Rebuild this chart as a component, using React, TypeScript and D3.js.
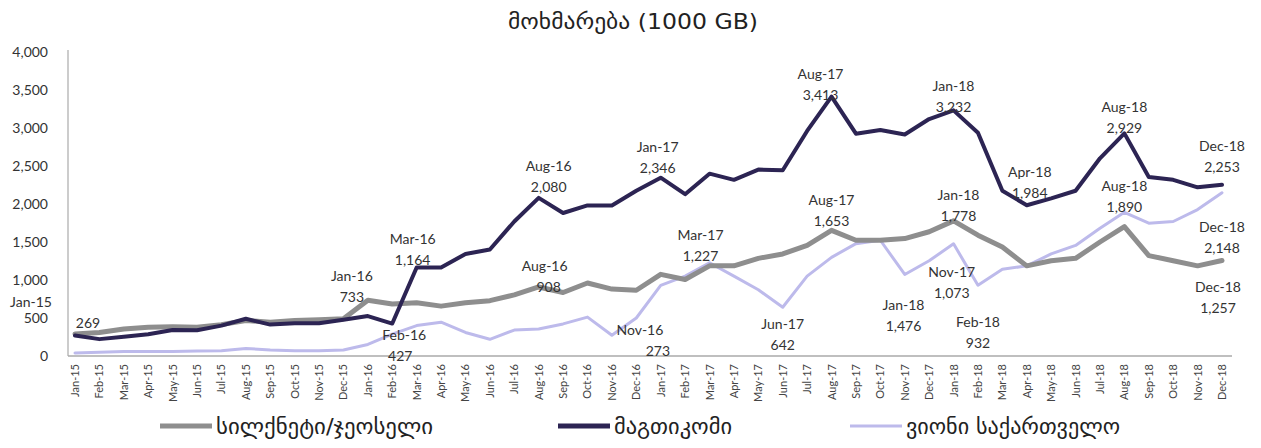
import React from 'react';
import * as d3 from 'd3';

const months = [
  'Jan-15', 'Feb-15', 'Mar-15', 'Apr-15', 'May-15', 'Jun-15', 'Jul-15', 'Aug-15', 'Sep-15', 'Oct-15', 'Nov-15', 'Dec-15',
  'Jan-16', 'Feb-16', 'Mar-16', 'Apr-16', 'May-16', 'Jun-16', 'Jul-16', 'Aug-16', 'Sep-16', 'Oct-16', 'Nov-16', 'Dec-16',
  'Jan-17', 'Feb-17', 'Mar-17', 'Apr-17', 'May-17', 'Jun-17', 'Jul-17', 'Aug-17', 'Sep-17', 'Oct-17', 'Nov-17', 'Dec-17',
  'Jan-18', 'Feb-18', 'Mar-18', 'Apr-18', 'May-18', 'Jun-18', 'Jul-18', 'Aug-18', 'Sep-18', 'Oct-18', 'Nov-18', 'Dec-18',
];

// სილქნეტი/ჯეოსელი
const silknet = [
  290, 310, 355, 377, 386, 377, 413, 467, 445, 467, 476, 490,
  733, 683, 700, 656, 700, 728, 804, 908, 835, 961, 880, 865,
  1074, 1006, 1186, 1186, 1285, 1343, 1455, 1653, 1523, 1523, 1545, 1635,
  1778, 1590, 1433, 1186, 1253, 1285, 1500, 1702, 1321, 1253, 1186, 1257,
];

// მაგთიკომი
const magti = [
  269, 222, 252, 287, 341, 340, 400, 490, 413, 431, 431, 476,
  525, 427, 1164, 1163, 1343, 1402, 1770, 2080, 1882, 1981, 1981, 2174,
  2346, 2129, 2399, 2318, 2453, 2444, 2961, 3413, 2925, 2974, 2915, 3118,
  3232, 2938, 2174, 1984, 2075, 2174, 2601, 2929, 2354, 2318, 2219, 2253,
];

// ვიონი საქართველო
const vioni = [
  40, 50, 60, 60, 60, 65, 70, 100, 80, 70, 70, 80,
  152, 287, 400, 445, 310, 220, 341, 355, 422, 512, 273, 500,
  930, 1051, 1227, 1051, 872, 642, 1051, 1298, 1478, 1523, 1073, 1253,
  1476, 932, 1141, 1186, 1343, 1455, 1680, 1890, 1747, 1770, 1927, 2148,
];

const yTicks = [0, 500, 1000, 1500, 2000, 2500, 3000, 3500, 4000];

const seriesNames = ['სილქნეტი/ჯეოსელი', 'მაგთიკომი', 'ვიონი საქართველო'];
const seriesColors = ['#8e8e8e', '#2c2453', '#bdbaeb'];
const seriesWidths = [5, 4, 3];

// data labels: [series index, month]
const labelled = [
  [1, 'Jan-15'], [0, 'Jan-16'], [1, 'Mar-16'], [1, 'Feb-16'], [1, 'Aug-16'], [0, 'Aug-16'],
  [2, 'Nov-16'], [1, 'Jan-17'], [2, 'Mar-17'], [2, 'Jun-17'], [1, 'Aug-17'], [0, 'Aug-17'],
  [1, 'Jan-18'], [0, 'Jan-18'], [2, 'Jan-18'], [2, 'Nov-17'], [2, 'Feb-18'], [1, 'Apr-18'],
  [1, 'Aug-18'], [2, 'Aug-18'], [1, 'Dec-18'], [2, 'Dec-18'], [0, 'Dec-18'],
];

export default function App() {
  const W = 1261, H = 448;
  const all = [silknet, magti, vioni];

  const x = d3.scalePoint<string>().domain(months).range([75, 1222]);
  const y = d3.scaleLinear().domain([0, 4000]).range([356, 52]);
  const line = d3.line<number>()
    .x((d, i) => x(months[i]) as number)
    .y(d => y(d));

  const fmt = d3.format(',');
  const font = 'Lato, "DejaVu Sans", sans-serif';
  const geo = '"DejaVu Sans", sans-serif';

  // label nudges from its point: [dx, dy of first line baseline, extra dx of value line]
  const nudge = [
    [-44, -29, 57], [-16, -19, 0], [-4, -24, 0], [12, 16, -4], [10, -27, 0], [6, -16, 4],
    [28, 0, 18], [-3, -26, 0], [-9, -23, 0], [0, 22, 0], [-11, -18, 0], [0, -25, 0],
    [0, -19, 0], [5, -21, 0], [-50, 66, 0], [47, 3, 0], [0, 42, 0], [3, -28, 0],
    [0, -21, 0], [0, -21, 0], [0, -34, 0], [0, 39, 0], [-4, 32, 0],
  ];

  const legendX = [160, 558, 850];
  const legendW = [217, 118, 214];

  return (
    <div style={{ position: 'absolute', left: 0, top: 0 }}>
      <svg width={W} height={H} style={{ display: 'block', background: '#fff' }}>
        <text x={508} y={29} fontSize={22} fill="#222" fontFamily={geo}
          textLength={250} lengthAdjust="spacingAndGlyphs">მოხმარება (1000 GB)</text>

        {/* y axis */}
        <line x1={68} x2={68} y1={50} y2={356} stroke="#999" />
        {yTicks.map(t => (
          <text key={t} x={48} y={y(t) + 5} textAnchor="end" fontSize={14}
            fontFamily={font} fill="#333">{fmt(t)}</text>
        ))}

        {/* x axis */}
        <line x1={68} x2={1232} y1={356} y2={356} stroke="#aaa" strokeWidth={1.5} />
        {months.map(m => (
          <text key={m} transform={`translate(${(x(m) as number) + 4},364) rotate(-90)`}
            textAnchor="end" fontSize={11} fontFamily={font} fill="#444">{m}</text>
        ))}

        {/* lines, light one first */}
        {[2, 0, 1].map(s => (
          <path key={s} d={line(all[s]) as string} fill="none" stroke={seriesColors[s]}
            strokeWidth={seriesWidths[s]} strokeLinejoin="round" strokeLinecap="round" />
        ))}

        {/* data labels */}
        {labelled.map(([s, m], k) => {
          const i = months.indexOf(m as string);
          const v = all[s as number][i];
          const px = (x(m as string) as number) + nudge[k][0];
          const y1 = y(v) + nudge[k][1];
          return (
            <g key={k} fontSize={14} fontFamily={font} fill="#333" textAnchor="middle">
              <text x={px} y={y1}>{m}</text>
              <text x={px + nudge[k][2]} y={y1 + 21}>{fmt(v)}</text>
            </g>
          );
        })}

        {/* legend */}
        {seriesNames.map((n, s) => (
          <g key={n} transform={`translate(${legendX[s]},426)`}>
            <line x1={0} x2={52} y1={0} y2={0} stroke={seriesColors[s]} strokeWidth={s === 2 ? 3 : 5} />
            <text x={56} y={8} fontSize={21} fill="#222" fontFamily={geo}
              textLength={legendW[s]} lengthAdjust="spacingAndGlyphs">{n}</text>
          </g>
        ))}
      </svg>
    </div>
  );
}
